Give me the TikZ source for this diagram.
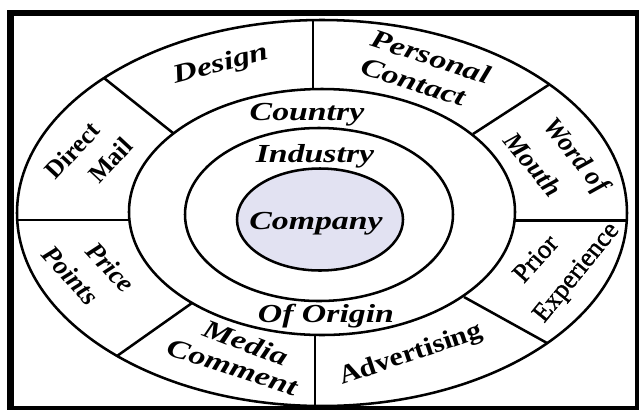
\documentclass[tikz,border=0pt]{standalone}
\usepackage{fontspec}
\setmainfont{Liberation Serif}
\newfontfamily\widefam[FakeStretch=1.3]{Liberation Serif}
\newfontfamily\midfam[FakeStretch=1.15]{Liberation Serif}
\newfontfamily\semifam[FakeBold=1.2]{Liberation Serif}
\definecolor{companyfill}{RGB}{226,226,242}
\begin{document}
\begin{tikzpicture}[x=0.75pt,y=-0.75pt,
  ring/.style={draw=black,line width=1.9pt},
  divider/.style={draw=black,line width=1.9pt},
  lbl/.style={inner sep=0pt,text height=13.5pt,text depth=4pt,anchor=center},
  lblwide/.style={lbl,font=\widefam\bfseries\itshape\fontsize{19.5}{22}\selectfont},
  lblslant/.style={lbl,font=\bfseries\itshape\fontsize{20}{22}\selectfont},
  lblbold/.style={lbl,font=\bfseries\fontsize{19}{22}\selectfont},
  lbllight/.style={lbl,font=\semifam\fontsize{20}{22}\selectfont},
  lblbroad/.style={lbl,font=\midfam\bfseries\fontsize{19.5}{22}\selectfont}]
\useasboundingbox (0,0) rectangle (640,412);

% frame
\fill[black] (7,10) rectangle (639,410);
\fill[white] (14,16) rectangle (635,406);

% rings
\draw[ring] (322,213) ellipse [x radius=228.75pt, y radius=144.75pt];
\draw[ring] (322,212) ellipse [x radius=144.75pt, y radius=92.25pt];
\draw[ring] (319,214.5) ellipse [x radius=100.5pt, y radius=64.875pt];
\draw[ring,fill=companyfill] (320,219.5) ellipse [x radius=62.25pt, y radius=38.25pt];

% end points of the spokes on the outer and middle rings
\coordinate (o1) at (104,78);   \coordinate (m1) at (173,133);
\coordinate (o2) at (313,20);   \coordinate (m2) at (313,89);
\coordinate (o3) at (550,84);   \coordinate (m3) at (473,134);
\coordinate (o4) at (627,220.5);\coordinate (m4) at (515,220.5);
\coordinate (o5) at (547,343);  \coordinate (m5) at (464,297);
\coordinate (o6) at (315,406);  \coordinate (m6) at (315,335);
\coordinate (o7) at (117,356);  \coordinate (m7) at (192,303);
\coordinate (o8) at (17,220);   \coordinate (m8) at (129,220);

\foreach \i in {1,...,8} \draw[divider] (o\i) -- (m\i);

% inner labels
\node[lblwide] (country) at (307,114) {Country};
\node[lblwide] (industry) at (315,156.5) {Industry};
\node[lblwide] (company) at (316,223.5) {Company};
\node[lblwide] (origin) at (326,316.5) {Of Origin};

% outer segment labels
\node[lblwide,rotate=15] (design) at (221,65) {Design};
\node[lblwide,rotate=-18] (personal) at (430,59) {Personal};
\node[lblwide,rotate=-18] (contact) at (413,84) {Contact};
\node[lblslant,rotate=-51] (wordof) at (575,157) {Word of};
\node[lblslant,rotate=-51] (mouth) at (531,166) {Mouth};
\node[lblbold,rotate=47] (direct) at (74,152) {Direct};
\node[lblbold,rotate=47] (mail) at (112,162) {Mail};
\node[lblslant,rotate=-47] (price) at (109,269) {Price};
\node[lblslant,rotate=-48] (points) at (69,277) {Points};
\node[lbllight,rotate=48] (prior) at (537,260) {Prior};
\node[lbllight,rotate=51] (experience) at (577,273) {Experience};
\node[lblwide,rotate=-21] (media) at (245,345) {Media};
\node[lblwide,rotate=-18] (comment) at (232,369) {Comment};
\node[lblbroad,rotate=18.7] (advertising) at (411,355) {Advertising};
\end{tikzpicture}
\end{document}
